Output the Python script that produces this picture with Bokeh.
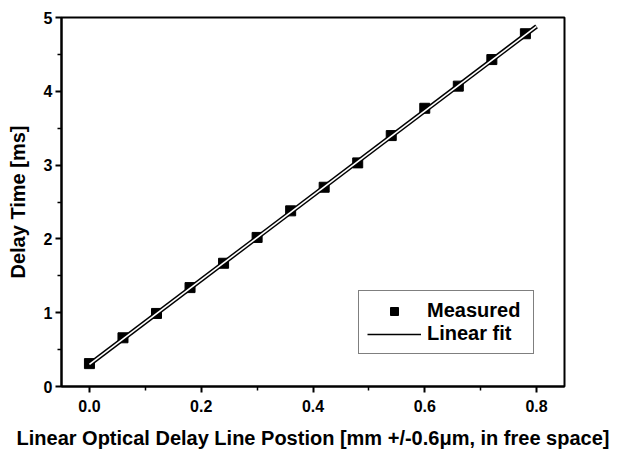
from bokeh.plotting import figure
from bokeh.models import Range1d, FixedTicker, PrintfTickFormatter, Legend, LegendItem, ColumnDataSource
from bokeh.embed import file_html
from bokeh.resources import INLINE

# data
positions = [0.00, 0.06, 0.12, 0.18, 0.24, 0.30, 0.36, 0.42, 0.48, 0.54, 0.60, 0.66, 0.72, 0.78]
delay_ms = [0.31, 0.66, 0.99, 1.34, 1.67, 2.02, 2.38, 2.70, 3.03, 3.40, 3.77, 4.07, 4.43, 4.78]
fit_x = [0.0, 0.8]
fit_y = [0.30, 4.88]
x_ticks = [0.0, 0.2, 0.4, 0.6, 0.8]
x_minor = [-0.1, 0.1, 0.3, 0.5, 0.7]
y_ticks = [0, 1, 2, 3, 4, 5]
y_minor = [0.5, 1.5, 2.5, 3.5, 4.5]
x_label = "Linear Optical Delay Line Postion [mm +/-0.6\u03bcm, in free space]"
y_label = "Delay Time [ms]"
legend_labels = ["Measured", "Linear fit"]

FONT = "Liberation Sans"

p = figure(width=611, height=451, output_backend="svg", toolbar_location=None,
           x_range=Range1d(-0.05, 0.85), y_range=Range1d(0, 5),
           min_border_left=61, min_border_top=17, min_border_right=47, min_border_bottom=65)
p.xgrid.visible = False
p.ygrid.visible = False
p.outline_line_color = "black"
p.outline_line_width = 2
p.background_fill_color = "white"
p.border_fill_color = "white"

for ax in (p.xaxis[0], p.yaxis[0]):
    ax.axis_line_width = 2
    ax.axis_line_color = "black"
    ax.major_tick_line_width = 2
    ax.minor_tick_line_width = 1.5
    ax.major_tick_out = 6
    ax.major_tick_in = 0
    ax.minor_tick_out = 4
    ax.minor_tick_in = 0
    ax.major_label_text_font = FONT
    ax.major_label_text_font_style = "bold"
    ax.major_label_text_font_size = "16px"
    ax.major_label_text_color = "black"
    ax.axis_label_text_font = FONT
    ax.axis_label_text_font_style = "bold"
    ax.axis_label_text_font_size = "20px"
    ax.axis_label_text_color = "black"

p.xaxis[0].ticker = FixedTicker(ticks=x_ticks, minor_ticks=x_minor)
p.xaxis[0].formatter = PrintfTickFormatter(format="%.1f")
p.xaxis[0].axis_label = x_label
p.xaxis[0].major_label_standoff = 7
p.xaxis[0].axis_label_standoff = 12

p.yaxis[0].ticker = FixedTicker(ticks=y_ticks, minor_ticks=y_minor)
p.yaxis[0].axis_label = y_label
p.yaxis[0].major_label_standoff = 3
p.yaxis[0].axis_label_standoff = 12

src = ColumnDataSource(dict(x=positions, y=delay_ms))
sq = p.scatter("x", "y", source=src, marker="square", size=10,
               fill_color="black", line_color="black")
# thin line used for the legend entry; fully covered by the outlined fit line
fit_legend = p.line(fit_x, fit_y, line_color="black", line_width=1.5)
p.line(fit_x, fit_y, line_color="black", line_width=4.5)
p.line(fit_x, fit_y, line_color="white", line_width=1.6)

legend = Legend(items=[LegendItem(label=legend_labels[0], renderers=[sq]),
                       LegendItem(label=legend_labels[1], renderers=[fit_legend])],
                location=(297, 32), orientation="vertical")
legend.label_text_font = FONT
legend.label_text_font_style = "bold"
legend.label_text_font_size = "20px"
legend.label_text_color = "black"
legend.glyph_width = 54
legend.glyph_height = 20
legend.label_height = 20
legend.label_width = 98
legend.label_standoff = 6
legend.padding = 8
legend.spacing = 0
legend.margin = 0
legend.border_line_color = "black"
legend.border_line_width = 1.5
legend.background_fill_color = "white"
legend.background_fill_alpha = 1
p.add_layout(legend, "center")

open("out.html", "w").write(file_html(p, INLINE))
